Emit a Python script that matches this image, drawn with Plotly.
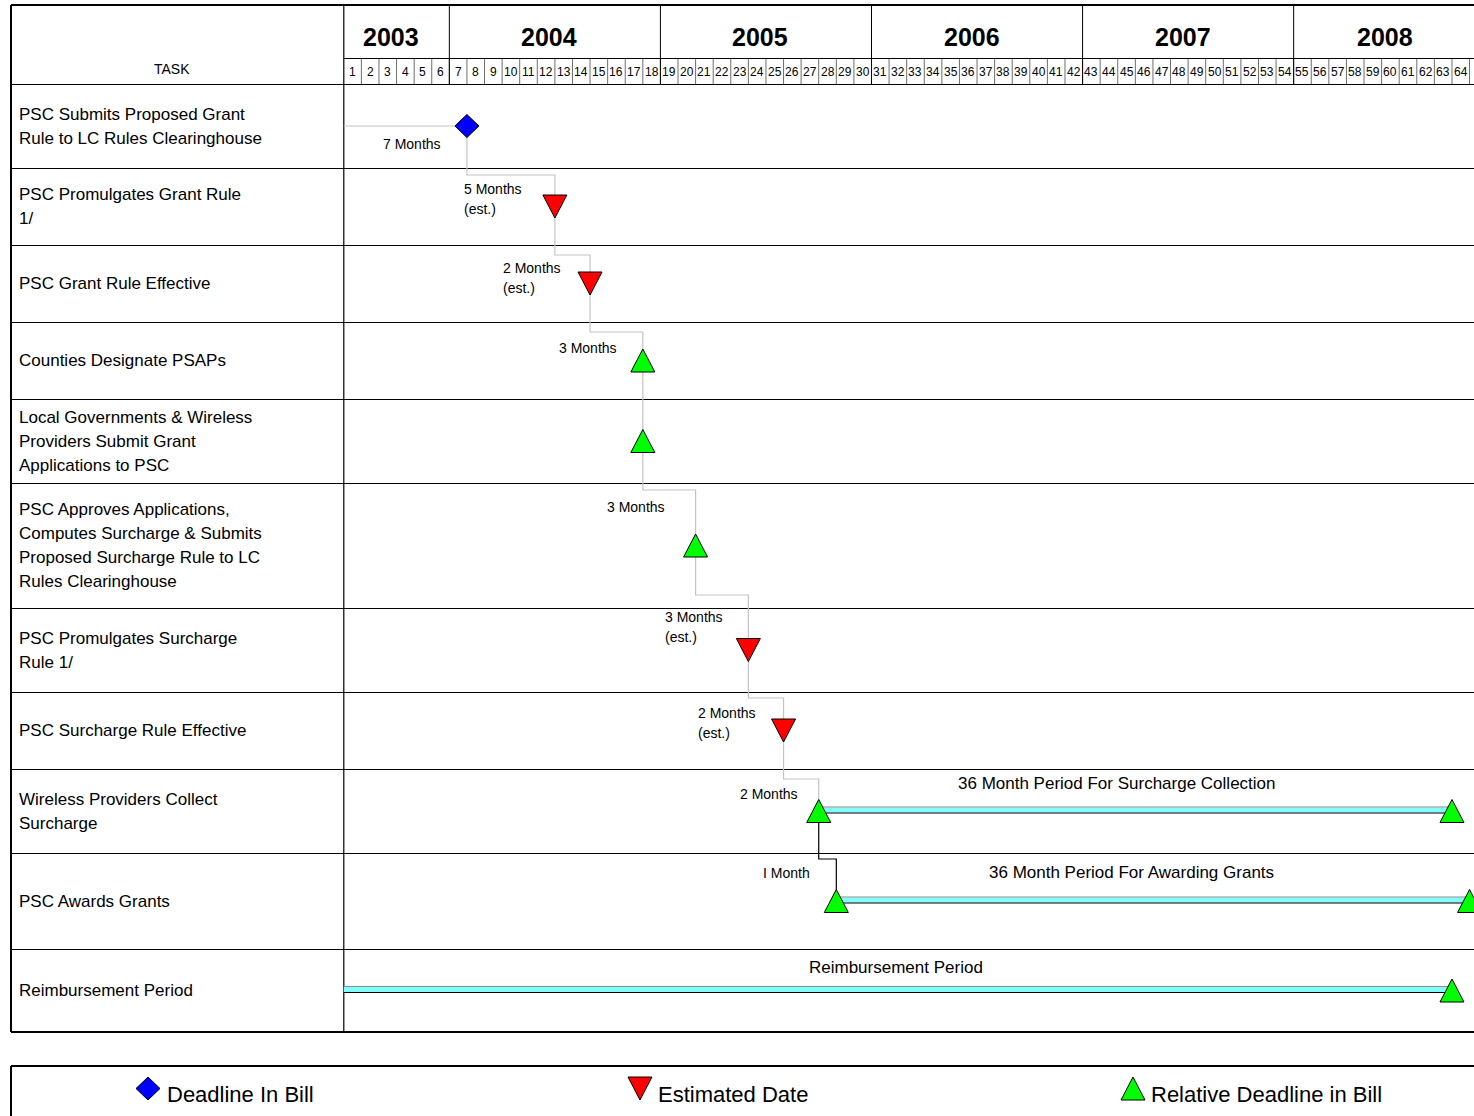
import plotly.graph_objects as go

# ---------------- data ----------------
tasks = [
    ["PSC Submits Proposed Grant", "Rule to LC Rules Clearinghouse"],
    ["PSC Promulgates Grant Rule", "1/"],
    ["PSC Grant Rule Effective"],
    ["Counties Designate PSAPs"],
    ["Local Governments & Wireless", "Providers Submit Grant", "Applications to PSC"],
    ["PSC Approves Applications,", "Computes Surcharge & Submits",
     "Proposed Surcharge Rule to LC", "Rules Clearinghouse"],
    ["PSC Promulgates Surcharge", "Rule 1/"],
    ["PSC Surcharge Rule Effective"],
    ["Wireless Providers Collect", "Surcharge"],
    ["PSC Awards Grants"],
    ["Reimbursement Period"],
]
years = [2003, 2004, 2005, 2006, 2007, 2008]
year_start_month = [0, 6, 18, 30, 42, 54]
year_end_month = [6, 18, 30, 42, 54, 65]
month_numbers = list(range(1, 66))

milestone_month = [7, 12, 14, 17, 17, 20, 23, 25, 27, 28]
milestone_kind = ["deadline", "estimated", "estimated", "relative", "relative",
                  "relative", "estimated", "estimated", "relative", "relative"]
duration_text = [["7 Months"], ["5 Months", "(est.)"], ["2 Months", "(est.)"],
                 ["3 Months"], [], ["3 Months"], ["3 Months", "(est.)"],
                 ["2 Months", "(est.)"], ["2 Months"], ["I Month"]]

period_row = [8, 9, 10]
period_start = [27, 28, 0]
period_end = [63, 64, 63]
period_text = ["36 Month Period For Surcharge Collection",
               "36 Month Period For Awarding Grants",
               "Reimbursement Period"]

legend_kinds = ["deadline", "estimated", "relative"]
legend_text = ["Deadline In Bill", "Estimated Date", "Relative Deadline in Bill"]

# ---------------- layout constants ----------------
W, H = 1474, 1116
GL = 343.8      # left edge of month grid (px)
MW = 17.59      # month width (px)
TL = 11         # table left edge (px)
HEADER_TOP, YEAR_BOTTOM, HEADER_BOTTOM = 5, 58, 84
row_heights = [84, 77, 77, 77, 84, 125, 84, 77, 84, 96, 83]
elbow_offset = [None, 7, 10, 10, None, 7, -13, 6, 10, 6]   # relative to row top
label_x = [2.19, 6.79, 9.01, 12.19, None, 14.92, 18.22, 20.10, 22.48, 23.80]
label_dy = [18, -17.5, -15.5, -12.5, None, -38.5, -33, -17.5, -17, -28]
period_label_x = [43.95, 44.77, 31.38]
period_label_dy = [-28, -29, -23.5]
legend_x = [148, 640, 1133]
legend_text_x = [166, 657, 1150]
LEG_TOP = 1066

FONT = "Liberation Sans, Arial, sans-serif"
colors = {"deadline": "#0000ff", "estimated": "#ff0000", "relative": "#00ff00"}

row_tops = [HEADER_BOTTOM]
for h in row_heights:
    row_tops.append(row_tops[-1] + h)
row_centers = [(row_tops[i] + row_tops[i + 1]) / 2 for i in range(len(row_heights))]
TABLE_BOTTOM = row_tops[-1]

HW, HH = 12, 11.5  # marker half width / half height (px)


def shape_poly(kind, x, y, sx):
    """polygon for a marker; sx converts px to x-units"""
    w = HW * sx
    if kind == "deadline":
        return [x - w, x, x + w, x, x - w], [y, y - HH, y, y + HH, y]
    if kind == "estimated":
        return [x - w, x + w, x, x - w], [y - HH, y - HH, y + HH, y - HH]
    return [x - w, x + w, x, x - w], [y + HH, y + HH, y - HH, y + HH]


fig = go.Figure()

# connectors
gx, gy = [0, milestone_month[0]], [row_centers[0], row_centers[0]]
bx, by = [], []
for i in range(1, len(milestone_month)):
    px_, nx = milestone_month[i - 1], milestone_month[i]
    if elbow_offset[i] is None:
        seg_x, seg_y = [px_, nx], [row_centers[i - 1], row_centers[i]]
    else:
        ey = row_tops[i] + elbow_offset[i]
        seg_x = [px_, px_, nx, nx]
        seg_y = [row_centers[i - 1], ey, ey, row_centers[i]]
    if i == len(milestone_month) - 1:
        bx, by = seg_x, seg_y
    else:
        gx += seg_x[1:]
        gy += seg_y[1:]
fig.add_trace(go.Scatter(x=gx, y=gy, mode="lines", line=dict(color="#c4c4c4", width=1.2),
                         hoverinfo="skip", showlegend=False))
fig.add_trace(go.Scatter(x=bx, y=by, mode="lines", line=dict(color="#000000", width=1.2),
                         hoverinfo="skip", showlegend=False))

# period bars
for r, s, e in zip(period_row, period_start, period_end):
    yc = row_centers[r] - 1
    fig.add_trace(go.Scatter(x=[s, e], y=[yc, yc], mode="lines",
                             line=dict(color="#80ffff", width=5), hoverinfo="skip", showlegend=False))
    fig.add_trace(go.Scatter(x=[s, e], y=[yc - 3, yc - 3], mode="lines",
                             line=dict(color="#8a8a8a", width=1), hoverinfo="skip", showlegend=False))
    fig.add_trace(go.Scatter(x=[s, e], y=[yc + 3, yc + 3], mode="lines",
                             line=dict(color="#000000", width=1), hoverinfo="skip", showlegend=False))

# markers
marks = [(k, m, row_centers[i]) for i, (m, k) in enumerate(zip(milestone_month, milestone_kind))]
marks += [("relative", e, row_centers[r]) for r, e in zip(period_row, period_end)]
for kind in ["deadline", "estimated", "relative"]:
    xs, ys = [], []
    for k, m, yc in marks:
        if k != kind:
            continue
        px_, py_ = shape_poly(k, m, yc, 1 / MW)
        xs += px_ + [None]
        ys += py_ + [None]
    fig.add_trace(go.Scatter(x=xs, y=ys, mode="lines", fill="toself", fillcolor=colors[kind],
                             line=dict(color="#000000", width=1), hoverinfo="skip", showlegend=False))

# legend keys (px x-axis)
for kind, lx in zip(legend_kinds, legend_x):
    px_, py_ = shape_poly(kind, lx, 1088.5, 1)
    fig.add_trace(go.Scatter(x=px_, y=py_, xaxis="x2", mode="lines", fill="toself",
                             fillcolor=colors[kind], line=dict(color="#000000", width=1),
                             hoverinfo="skip", showlegend=False))

ann = []


def text(x, y, t, size, xref="x", xanchor="center", bold=False):
    ann.append(dict(x=x, y=y, xref=xref, yref="y", text=("<b>%s</b>" % t) if bold else t,
                    showarrow=False, xanchor=xanchor, yanchor="middle",
                    font=dict(family=FONT, size=size, color="#000000")))


# task labels
for i, lines in enumerate(tasks):
    n = len(lines)
    for j, ln in enumerate(lines):
        text(TL + 6, row_centers[i] + (j - (n - 1) / 2) * 24, ln, 17, xref="x2", xanchor="left")
text(172, 69, "TASK", 14, xref="x2")

# years
for y_, s, e in zip(years, year_start_month, year_end_month):
    text((s + e) / 2 - 5.5 / MW, 37, str(y_), 25, bold=True)
# months (placed on the px axis so the clipped last cell still shows)
for m in month_numbers:
    text(GL + (m - 0.5) * MW, 72, str(m), 12, xref="x2")

# duration labels
for i, lines in enumerate(duration_text):
    for j, ln in enumerate(lines):
        text(label_x[i] - 1 / MW, row_centers[i] + label_dy[i] + j * 19.5, ln, 14, xanchor="left")
for r, t, lx, dy in zip(period_row, period_text, period_label_x, period_label_dy):
    text(lx, row_centers[r] + dy, t, 17)

# legend text
for t, lx in zip(legend_text, legend_text_x):
    text(lx - 1, 1094, t, 22, xref="x2", xanchor="left")

# ---------------- table lines ----------------
shapes = []


def line(x0, y0, x1, y1, xref="x2", color="#000000", width=1):
    shapes.append(dict(type="line", x0=x0, y0=y0, x1=x1, y1=y1, xref=xref, yref="y",
                       line=dict(color=color, width=width), layer="below"))


for m in range(1, 65):
    line(m, YEAR_BOTTOM, m, HEADER_BOTTOM, xref="x", color="#6e6e6e", width=1)
for s in year_start_month[1:]:
    line(s, HEADER_TOP, s, HEADER_BOTTOM, xref="x", width=1)
line(GL, YEAR_BOTTOM + 0.5, W + 5, YEAR_BOTTOM + 0.5, width=1)
line(TL, HEADER_TOP, W + 5, HEADER_TOP, width=2)
for yt in row_tops[:-1]:
    line(TL, yt + 0.5, W + 5, yt + 0.5, color="#000000", width=1)
line(TL, TABLE_BOTTOM, W + 5, TABLE_BOTTOM, width=2)
line(TL, HEADER_TOP, TL, TABLE_BOTTOM, width=2)
line(GL, HEADER_TOP, GL, TABLE_BOTTOM, width=1.2)
line(TL, LEG_TOP, W + 5, LEG_TOP, width=2)
line(TL, LEG_TOP, TL, H + 5, width=2)

fig.update_layout(
    width=W, height=H, margin=dict(l=0, r=0, t=0, b=0),
    paper_bgcolor="white", plot_bgcolor="white",
    xaxis=dict(range=[-GL / MW, (W - GL) / MW], domain=[0, 1], visible=False, fixedrange=True),
    xaxis2=dict(range=[0, W], domain=[0, 1], overlaying="x", visible=False, fixedrange=True),
    yaxis=dict(range=[H, 0], domain=[0, 1], visible=False, fixedrange=True),
    shapes=shapes, annotations=ann, showlegend=False,
)
fig.write_html("out.html", config={"displayModeBar": False})
